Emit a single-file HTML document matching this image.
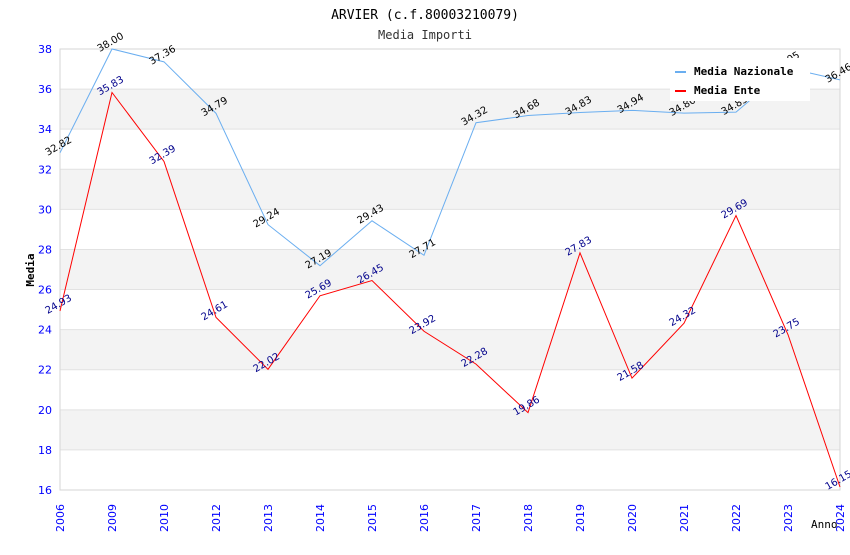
<!DOCTYPE html>
<html><head><meta charset="utf-8"><style>
body{margin:0;background:#fff;}
svg text{font-family:"DejaVu Sans","Liberation Sans",sans-serif;}
svg text.mono{font-family:"DejaVu Sans Mono","Liberation Mono",monospace;}
</style></head><body>
<svg id="chart" width="850" height="550" xmlns="http://www.w3.org/2000/svg">
<text class="mono" x="425" y="19" text-anchor="middle" font-size="13" fill="#000">ARVIER (c.f.80003210079)</text>
<text class="mono" x="425" y="39" text-anchor="middle" font-size="12" fill="#333">Media Importi</text>
<g id="bands"></g><g id="axes"></g><g id="series"></g>
<g>
<rect x="670" y="58" width="140" height="43" fill="#fff"/>
<rect x="675" y="71" width="11" height="2" fill="#6aaef0"/>
<text class="mono" x="694" y="75" font-size="11" font-weight="bold">Media Nazionale</text>
<rect x="675" y="90" width="11" height="2" fill="#f00"/>
<text class="mono" x="694" y="94" font-size="11" font-weight="bold">Media Ente</text>
</g>
<text class="mono" transform="translate(34,270) rotate(-90)" text-anchor="middle" font-size="11" font-weight="bold">Media</text>
<text class="mono" x="811" y="528" font-size="11">Anno</text>
</svg>
<script>
const years=["2006","2009","2010","2012","2013","2014","2015","2016","2017","2018","2019","2020","2021","2022","2023","2024"];
const nazionale=[32.82,38.00,37.36,34.79,29.24,27.19,29.43,27.71,34.32,34.68,34.83,34.94,34.80,34.85,37.05,36.46];
const ente=[24.93,35.83,32.39,24.61,22.02,25.69,26.45,23.92,22.28,19.86,27.83,21.58,24.32,29.69,23.75,16.15];
const yTicks=[16,18,20,22,24,26,28,30,32,34,36,38];
const NS="http://www.w3.org/2000/svg";
const L=60,R=840,T=49,B=490,ymin=16,ymax=38;
const X=i=>L+i*(R-L)/(years.length-1);
const Y=v=>B-(v-ymin)/(ymax-ymin)*(B-T);
function mk(t,a,p){const e=document.createElementNS(NS,t);for(const k in a)e.setAttribute(k,a[k]);p.appendChild(e);return e;}
const bands=document.getElementById('bands'),axes=document.getElementById('axes'),ser=document.getElementById('series');
for(let i=0;i<yTicks.length-1;i++){
 const r=mk('rect',{x:L,y:Y(yTicks[i+1]),width:R-L,height:Y(yTicks[i])-Y(yTicks[i+1]),fill:(i%2==1)?'#f3f3f3':'#fff'},bands);
 
 
}
yTicks.forEach(v=>{
 mk('line',{x1:L,x2:R,y1:Y(v),y2:Y(v),stroke:'#e2e2e2','stroke-width':1},axes);
 const t=mk('text',{x:L-8,y:Y(v)+4,'text-anchor':'end','font-size':11,fill:'#00f'},axes);t.textContent=v;
 
 
});
years.forEach((y,i)=>{
 const t=mk('text',{transform:`translate(${X(i)+4},${B+42}) rotate(-90)`,'font-size':11,fill:'#00f'},axes);t.textContent=y;
 
 
});
mk('rect',{x:L,y:T,width:R-L,height:B-T,fill:'none',stroke:'#d6d6d6'},axes);
function draw(vals,color,lbl,name){
 const p=mk('polyline',{points:vals.map((v,i)=>X(i)+','+Y(v)).join(' '),fill:'none',stroke:color,'stroke-width':1},ser);
 
 
 vals.forEach((v,i)=>{
  const t=mk('text',{transform:`translate(${X(i)},${Y(v)-4}) rotate(-30)`,'text-anchor':'middle','font-size':10,fill:lbl},ser);
  t.textContent=v.toFixed(2);
  
  
 });
}
draw(nazionale,'#6aaef0','#000','nazionale');
draw(ente,'#f00','#00008b','ente');
</script>
</body></html>
